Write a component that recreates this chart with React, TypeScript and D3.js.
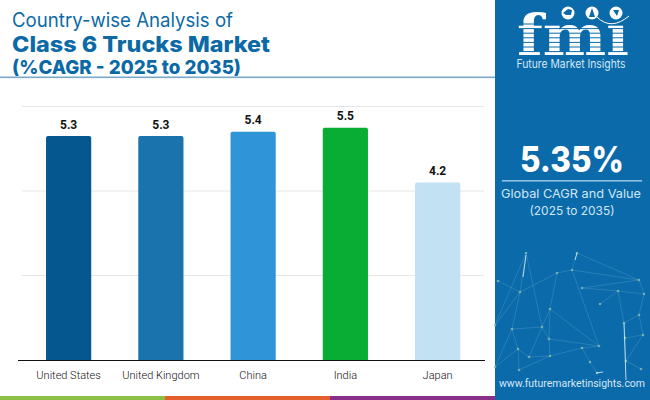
import * as React from 'react';
import * as d3 from 'd3';

const countries = ['United States', 'United Kingdom', 'China', 'India', 'Japan'];
const cagr = [5.3, 5.3, 5.4, 5.5, 4.2];
const barColors = ['#04588f', '#1a73ad', '#3095d8', '#09ad34', '#c2e1f3'];
const gridTicks = [2, 4, 6];
const stripeColors = ['#8bbf45', '#e35f2e', '#86308a'];

// background decoration of the side panel
const netNodes: [number, number][] = [
  [526, 253], [577, 253], [557, 273], [572, 270], [639, 280], [582, 288], [618, 291], [644, 294],
  [600, 304], [520, 292], [498, 281], [550, 309], [639, 315], [624, 323], [542, 327], [512, 329],
  [643, 335], [625, 338], [549, 339], [599, 346], [582, 348], [518, 349], [529, 357], [550, 356],
  [626, 361], [590, 362], [641, 369], [519, 370], [597, 373], [495, 325], [495, 367],
];
const netLinks: [number, number][] = [
  [0, 9], [0, 14], [0, 29], [9, 2], [2, 3], [3, 4], [1, 4], [1, 3], [5, 4], [5, 6], [6, 7], [6, 8],
  [6, 13], [4, 7], [13, 12], [13, 17], [17, 16], [12, 16], [12, 7], [17, 24], [24, 26], [24, 16],
  [2, 11], [11, 19], [3, 19], [11, 14], [14, 15], [15, 21], [21, 22], [22, 14], [18, 19], [18, 23],
  [23, 20], [20, 25], [25, 28], [21, 27], [22, 23], [27, 23], [30, 21], [15, 9], [9, 29], [18, 11],
  [10, 9], [15, 30], [18, 14], [20, 19],
];
const netStreaks: [number, number, number, number][] = [
  [526, 255, 523, 277], [624, 323, 626, 380], [577, 253, 575, 260], [596, 373, 603, 372],
];

const App = () => {
  const x = d3.scaleBand<string>().domain(countries).range([22.5, 483.75]).paddingInner(0.51).paddingOuter(0.255);
  const y = d3.scaleLinear().domain([0, 6]).range([360, 106.5]);
  const base = y(0);
  const sans = 'Inter, "Noto Sans", sans-serif';

  const barPath = (c: string, v: number) => {
    const left = x(c) as number;
    const w = x.bandwidth();
    const top = y(v);
    const p = d3.path();
    p.moveTo(left, base);
    p.lineTo(left, top + 2);
    p.quadraticCurveTo(left, top, left + 2, top);
    p.lineTo(left + w - 2, top);
    p.quadraticCurveTo(left + w, top, left + w, top + 2);
    p.lineTo(left + w, base);
    p.closePath();
    return p.toString();
  };

  const stripe = d3.scaleBand<number>().domain([0, 1, 2]).range([0, 495]);
  const logoLines = d3.range(24, 56, 4.6);

  return (
    <svg width={650} height={400} style={{ position: 'absolute', left: 0, top: 0 }} fontFamily={sans}>
      <rect width={650} height={400} fill="#fff" />

      <text x={12} y={27} fontSize={19.5} fill="#0b6aa6" textLength={221} lengthAdjust="spacingAndGlyphs">Country-wise Analysis of</text>
      <text x={12} y={52} fontSize={21.5} fontWeight={800} fill="#0b6aa6" textLength={258} lengthAdjust="spacingAndGlyphs">Class 6 Trucks Market</text>
      <text x={12} y={73.5} fontSize={19} fontWeight={800} fill="#0b6aa6" textLength={229} lengthAdjust="spacingAndGlyphs">(%CAGR - 2025 to 2035)</text>
      <rect x={0} y={76.5} width={495} height={1.6} fill="#79a9c8" />

      {gridTicks.map((t) => (
        <line key={t} x1={22} x2={484} y1={y(t)} y2={y(t)} stroke="#e4e6e8" strokeWidth={1} />
      ))}
      {countries.map((c, i) => (
        <g key={c}>
          <path d={barPath(c, cagr[i])} fill={barColors[i]} />
          <text x={(x(c) as number) + x.bandwidth() / 2} y={y(cagr[i]) - 7.5} textAnchor="middle" fontSize={12} fontWeight={700} fontFamily="Roboto, sans-serif" fill="#111">
            {cagr[i].toFixed(1)}
          </text>
          <text x={(x(c) as number) + x.bandwidth() / 2} y={379} textAnchor="middle" fontSize={11} fontFamily="Roboto, sans-serif" fontWeight={300} fill="#111">
            {c}
          </text>
        </g>
      ))}
      <line x1={18} x2={485} y1={base + 0.5} y2={base + 0.5} stroke="#111" strokeWidth={1} />

      {stripeColors.map((col, i) => (
        <rect key={col} x={stripe(i)} y={396} width={stripe.bandwidth()} height={4} fill={col} />
      ))}

      <rect x={495} y={0} width={155} height={400} fill="#0a6aaa" />
      {netLinks.map(([a, b], i) => (
        <line key={i} x1={netNodes[a][0]} y1={netNodes[a][1]} x2={netNodes[b][0]} y2={netNodes[b][1]} stroke="#6fb3cf" strokeOpacity={0.5} strokeWidth={0.6} />
      ))}
      {netNodes.map(([cx, cy], i) => (
        <circle key={i} cx={cx} cy={cy} r={1.3} fill="#86bcae" opacity={0.8} />
      ))}
      {netStreaks.map(([x1, y1, x2, y2], i) => (
        <line key={i} x1={x1} y1={y1} x2={x2} y2={y2} stroke="#e6f3fa" strokeOpacity={0.8} strokeWidth={1} />
      ))}

      <text x={573} y={55} textAnchor="middle" fontFamily='"DejaVu Serif", serif' fontWeight={700} fontSize={56} fill="#fff" textLength={112} lengthAdjust="spacingAndGlyphs">fmi</text>
      {logoLines.map((ly) => (
        <line key={ly} x1={515} x2={632} y1={ly} y2={ly} stroke="#0a6aaa" strokeWidth={1} />
      ))}
      <circle cx={621} cy={13} r={12} fill="#0a6aaa" />
      <circle cx={568} cy={13} r={6.5} fill="#fff" />
      <circle cx={592} cy={13} r={6.5} fill="#fff" />
      <circle cx={616} cy={13} r={6.5} fill="#fff" />
      <path d="M563,13l5,-4l4,1l-1,5l-5,0z" fill="#0a6aaa" />
      <path d="M592,8l3,9l-6,0z" fill="#0a6aaa" />
      <path d="M613,10l6,0l-2,6z" fill="#0a6aaa" />
      <path d="M597,17q14,14 32,-1" fill="none" stroke="#fff" strokeWidth={1} />
      <text x={571} y={68} textAnchor="middle" fontSize={11.5} fill="#d5e8f5" textLength={109} lengthAdjust="spacingAndGlyphs">Future Market Insights</text>

      <text x={572} y={172} textAnchor="middle" fontSize={35} fontWeight={800} fill="#fff" textLength={104} lengthAdjust="spacingAndGlyphs">5.35%</text>
      <rect x={502} y={180} width={140} height={1.6} fill="#8cc0e4" />
      <text x={571} y={198} textAnchor="middle" fontSize={12} fill="#cfe6f6" textLength={140} lengthAdjust="spacingAndGlyphs">Global CAGR and Value</text>
      <text x={572} y={215} textAnchor="middle" fontSize={12} fill="#cfe6f6" textLength={85} lengthAdjust="spacingAndGlyphs">(2025 to 2035)</text>

      <text x={572} y={387} textAnchor="middle" fontSize={10.5} fontFamily="Roboto, sans-serif" fill="#d5e8f5" textLength={146} lengthAdjust="spacingAndGlyphs">www.futuremarketinsights.com</text>
    </svg>
  );
};

export default App;
